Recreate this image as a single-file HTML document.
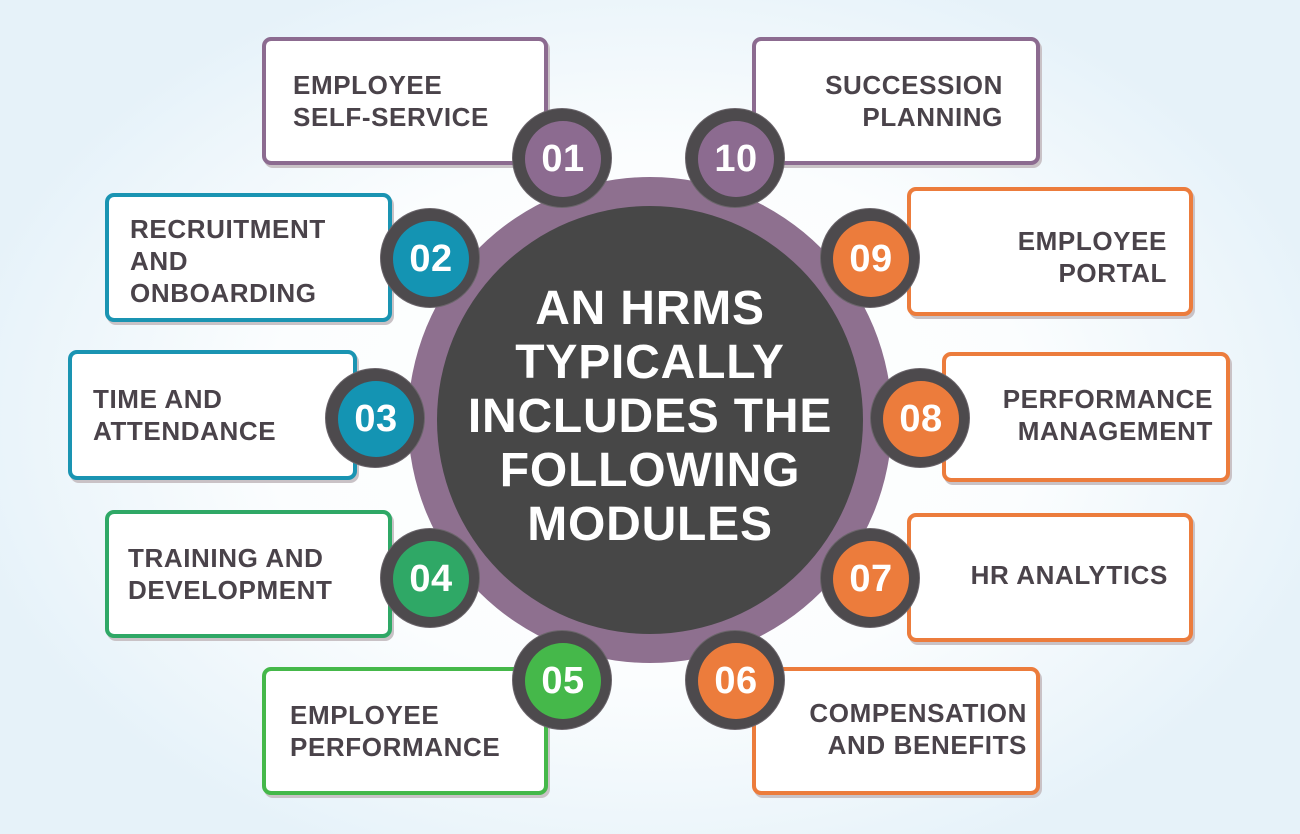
<!DOCTYPE html>
<html><head><meta charset="utf-8"><style>
html,body{margin:0;padding:0}
body{width:1300px;height:834px;position:relative;overflow:hidden;font-family:"Liberation Sans",sans-serif;
background:radial-gradient(ellipse 700px 480px at 650px 420px,#ffffff 0%,#fbfdfe 55%,#e6f2f9 100%);}
.box{position:absolute;box-sizing:border-box;border:4px solid;border-radius:9px;background:#fff;
box-shadow:2px 3px 0 #c9c2c6;display:flex;flex-direction:column;justify-content:center;
color:#4a434a;font-weight:bold;font-size:26px;line-height:32px;letter-spacing:0.6px;white-space:nowrap}
.l{align-items:flex-start;text-align:left}.r{align-items:flex-end;text-align:right}
.badge{position:absolute;width:100px;height:100px;border-radius:50%;background:#4d4a4d;box-sizing:border-box;border:1px solid #6b656b}
.badge span{position:absolute;left:12px;top:12px;width:76px;height:76px;border-radius:50%;display:flex;align-items:center;justify-content:center;color:#fff;font-weight:bold;font-size:38px;letter-spacing:0.5px}
.pu{border-color:#8c6b90}.te{border-color:#1a94b2}.gr{border-color:#3aad4c}.or{border-color:#ec7c3c}
</style></head><body>
<div style="position:absolute;left:408px;top:177px;width:484px;height:486px;border-radius:50%;background:#8e708f"></div>
<div style="position:absolute;left:437px;top:206px;width:426px;height:428px;border-radius:50%;background:#474747"></div>
<div style="position:absolute;left:400px;top:282px;width:500px;text-align:center;color:#fff;font-weight:bold;font-size:48px;line-height:54px;letter-spacing:0.8px">AN HRMS<br>TYPICALLY<br>INCLUDES THE<br>FOLLOWING<br>MODULES</div>

<div class="box l pu" style="left:262px;top:37px;width:286px;height:128px;padding-left:27px">EMPLOYEE<br>SELF-SERVICE</div>
<div class="box l te" style="left:105px;top:193px;width:287px;height:129px;padding-left:21px;padding-top:6px">RECRUITMENT<br>AND<br>ONBOARDING</div>
<div class="box l te" style="left:68px;top:350px;width:289px;height:130px;padding-left:21px">TIME AND<br>ATTENDANCE</div>
<div class="box l gr" style="left:105px;top:510px;width:287px;height:128px;padding-left:19px;border-color:#2fa866">TRAINING AND<br>DEVELOPMENT</div>
<div class="box l gr" style="left:262px;top:667px;width:286px;height:128px;padding-left:24px;border-color:#45b84a">EMPLOYEE<br>PERFORMANCE</div>
<div class="box r pu" style="left:752px;top:37px;width:288px;height:128px;padding-right:33px">SUCCESSION<br>PLANNING</div>
<div class="box r or" style="left:907px;top:187px;width:286px;height:129px;padding-right:22px;padding-top:10px">EMPLOYEE<br>PORTAL</div>
<div class="box r or" style="left:942px;top:352px;width:288px;height:130px;padding-right:13px;padding-bottom:4px">PERFORMANCE<br>MANAGEMENT</div>
<div class="box r or" style="left:907px;top:513px;width:286px;height:129px;padding-right:21px;padding-bottom:6px">HR ANALYTICS</div>
<div class="box r or" style="left:752px;top:667px;width:288px;height:128px;padding-right:9px;padding-bottom:4px">COMPENSATION<br>AND BENEFITS</div>

<div class="badge" style="left:512px;top:108px"><span style="background:#8c6b90">01</span></div>
<div class="badge" style="left:685px;top:108px"><span style="background:#8c6b90">10</span></div>
<div class="badge" style="left:380px;top:208px"><span style="background:#1494b3">02</span></div>
<div class="badge" style="left:820px;top:208px"><span style="background:#ec7c3c">09</span></div>
<div class="badge" style="left:325px;top:368px"><span style="background:#1494b3">03</span></div>
<div class="badge" style="left:870px;top:368px"><span style="background:#ec7c3c">08</span></div>
<div class="badge" style="left:380px;top:528px"><span style="background:#2fa866">04</span></div>
<div class="badge" style="left:820px;top:528px"><span style="background:#ec7c3c">07</span></div>
<div class="badge" style="left:512px;top:630px"><span style="background:#45b84a">05</span></div>
<div class="badge" style="left:685px;top:630px"><span style="background:#ec7c3c">06</span></div>
</body></html>
